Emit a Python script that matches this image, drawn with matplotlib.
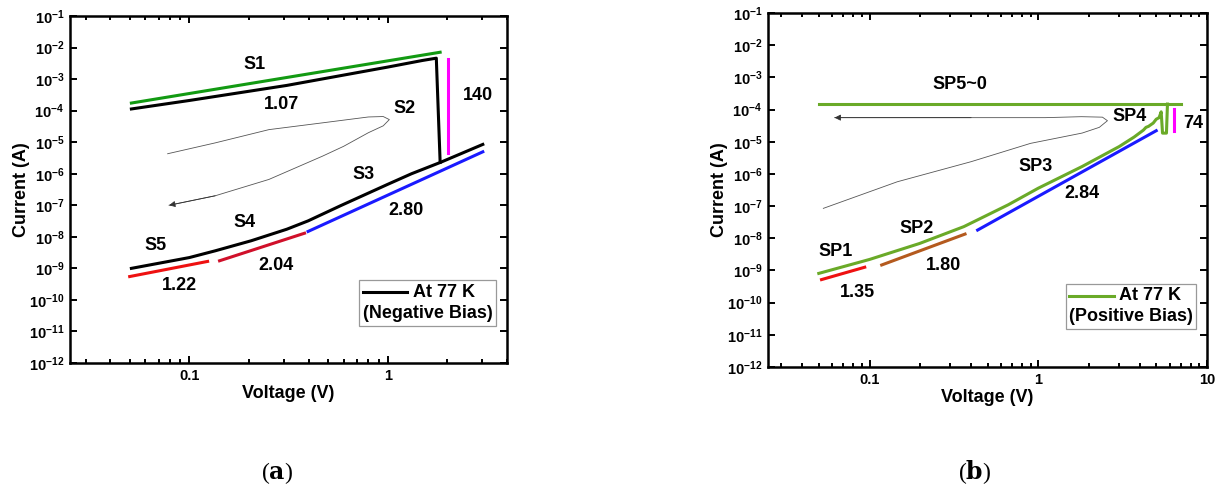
import numpy as np
import matplotlib
matplotlib.use("Agg")
import matplotlib.pyplot as plt
from matplotlib.ticker import FixedLocator, FuncFormatter, LogLocator, NullFormatter
from matplotlib.offsetbox import AnchoredOffsetbox, VPacker, HPacker, TextArea, DrawingArea
from matplotlib.lines import Line2D

plt.rcParams['font.family'] = ['Liberation Sans', 'DejaVu Sans']
plt.rcParams['font.weight'] = 'bold'
plt.rcParams['mathtext.fontset'] = 'custom'
plt.rcParams['mathtext.rm'] = 'Liberation Sans:bold'
plt.rcParams['mathtext.bf'] = 'Liberation Sans:bold'

# ---------------- Panel (a): negative bias ----------------
a_low_v = [0.051, 0.1, 0.135, 0.205, 0.31, 0.397, 0.577, 1.0, 1.32, 1.85, 3.02]
a_low_i = [1.0e-9, 2.2e-9, 3.6e-9, 7.5e-9, 1.74e-8, 3.2e-8, 9.6e-8, 4.6e-7, 1.0e-6, 2.3e-6, 8.5e-6]
a_high_v = [0.051, 0.1, 0.31, 1.0, 1.5, 1.76, 1.84]
a_high_i = [1.13e-4, 2.1e-4, 6.3e-4, 2.4e-3, 3.9e-3, 4.6e-3, 2.3e-6]
a_loop_v = [0.0777, 0.135, 0.252, 0.469, 0.80, 0.95, 1.02, 0.95, 0.80, 0.60, 0.469, 0.252, 0.135, 0.079]
a_loop_i = [4.3e-6, 9.5e-6, 2.5e-5, 4.1e-5, 6.3e-5, 6.5e-5, 5.2e-5, 3.3e-5, 2.0e-5, 7.4e-6, 3.6e-6, 6.6e-7, 2.0e-7, 1.0e-7]
a_fit_s1_v = [0.051, 1.84]
a_fit_s1_i = [1.74e-4, 7.1e-3]
a_fit_s5_v = [0.050, 0.1236]
a_fit_s5_i = [5.5e-10, 1.66e-9]
a_fit_s4_v = [0.142, 0.381]
a_fit_s4_i = [1.74e-9, 1.3e-8]
a_fit_s3_v = [0.397, 3.02]
a_fit_s3_i = [1.48e-8, 4.95e-6]
a_mag_v = [2.02, 2.02]
a_mag_i = [4.3e-3, 4.6e-6]
a_text = ["S1", "1.07", "S2", "140", "S3", "2.80", "S4", "S5", "2.04", "1.22"]
a_text_v = [0.212, 0.29, 1.22, 2.84, 0.76, 1.24, 0.19, 0.0675, 0.274, 0.089]
a_text_i = [3.0e-3, 1.55e-4, 1.2e-4, 3.0e-4, 9.5e-7, 6.6e-8, 2.9e-8, 5.2e-9, 1.26e-9, 2.8e-10]

# ---------------- Panel (b): positive bias ----------------
b_main_v = [0.05, 0.1, 0.198, 0.362, 0.664, 1.0, 1.82, 3.02, 3.7, 4.0, 4.2, 4.35, 4.5, 4.8, 5.0, 5.2, 5.35, 5.45, 5.75, 5.83]
b_main_i = [8.1e-10, 2.2e-9, 6.9e-9, 2.3e-8, 1.1e-7, 3.6e-7, 1.7e-6, 7.1e-6, 1.4e-5, 1.9e-5, 2.3e-5, 2.8e-5, 3.0e-5, 3.8e-5, 5.0e-5, 5.6e-5, 8.5e-5, 1.85e-5, 1.85e-5, 1.48e-4]
b_sp5_v = [0.05, 7.0]
b_sp5_i = [1.48e-4, 1.48e-4]
b_loop_v = [0.0532, 0.146, 0.40, 0.90, 1.82, 2.3, 2.57, 2.4, 1.8, 1.1, 0.40, 0.062]
b_loop_i = [8.5e-8, 5.7e-7, 2.4e-6, 8.9e-6, 1.86e-5, 2.8e-5, 4.5e-5, 5.8e-5, 6.0e-5, 5.6e-5, 5.6e-5, 5.6e-5]
b_fit_sp1_v = [0.0519, 0.0936]
b_fit_sp1_i = [5.2e-10, 1.26e-9]
b_fit_sp2_v = [0.118, 0.368]
b_fit_sp2_i = [1.48e-9, 1.35e-8]
b_fit_sp3_v = [0.437, 5.0]
b_fit_sp3_i = [1.8e-8, 2.2e-5]
b_mag_v = [6.4, 6.4]
b_mag_i = [1.04e-4, 2.2e-5]
b_text = ["SP5~0", "SP4", "74", "SP3", "2.84", "SP2", "1.80", "SP1", "1.35"]
b_text_v = [0.344, 3.47, 8.3, 0.97, 1.82, 0.19, 0.275, 0.0625, 0.085]
b_text_i = [6.2e-4, 5.9e-5, 3.8e-5, 1.7e-6, 2.4e-7, 2.0e-8, 1.4e-9, 3.8e-9, 2.1e-10]

y_ticks = [10.0 ** k for k in range(-12, 0)]
a_xticks = [0.1, 1]
b_xticks = [0.1, 1, 10]

fig = plt.figure(figsize=(12.15, 4.88), dpi=100)
ax1 = fig.add_axes([70 / 1215, 1 - 363 / 488, 437 / 1215, 347 / 488])
ax2 = fig.add_axes([768 / 1215, 1 - 367 / 488, 439 / 1215, 354 / 488])


def yfmt(v, pos):
    k = int(round(np.log10(v)))
    return r'$\mathbf{10^{%d}}$' % k


def xfmt(v, pos):
    return '%g' % v


def style(ax, xlim, xticks):
    ax.set_xscale('log')
    ax.set_yscale('log')
    ax.set_xlim(*xlim)
    ax.set_ylim(1e-12, 1e-1)
    ax.yaxis.set_major_locator(FixedLocator(y_ticks))
    ax.yaxis.set_major_formatter(FuncFormatter(yfmt))
    ax.yaxis.set_minor_locator(FixedLocator([]))
    ax.xaxis.set_major_locator(FixedLocator(xticks))
    ax.xaxis.set_major_formatter(FuncFormatter(xfmt))
    ax.xaxis.set_minor_locator(LogLocator(base=10, subs=np.arange(2, 10), numticks=20))
    ax.xaxis.set_minor_formatter(NullFormatter())
    ax.tick_params(which='both', direction='in', top=True, right=True, width=1.4)
    ax.tick_params(which='major', length=5, labelsize=10.5, pad=4)
    ax.tick_params(which='minor', length=3)
    for s in ax.spines.values():
        s.set_linewidth(1.8)
    ax.set_xlabel('Voltage (V)', fontsize=13, fontweight='bold', labelpad=2)
    ax.set_ylabel('Current (A)', fontsize=13, fontweight='bold', labelpad=-1)


def add_legend(ax, color, line2, anchor):
    da = DrawingArea(32, 10, 0, 0)
    da.add_artist(Line2D([0, 32], [5, 5], color=color, lw=2.2))
    t1 = TextArea('At 77 K', textprops=dict(fontsize=13, fontweight='bold'))
    t2 = TextArea(line2, textprops=dict(fontsize=13, fontweight='bold'))
    row = HPacker(children=[da, t1], align='center', pad=0, sep=4)
    box = VPacker(children=[row, t2], align='left', pad=0, sep=3)
    anch = AnchoredOffsetbox(loc='lower right', child=box, pad=0.25, borderpad=0,
                             frameon=True, bbox_to_anchor=anchor,
                             bbox_transform=ax.transAxes)
    anch.patch.set_edgecolor('#999999')
    anch.patch.set_linewidth(0.9)
    anch.patch.set_boxstyle('square', pad=0)
    ax.add_artist(anch)


# ---- Panel (a)
style(ax1, (0.025, 4.0), a_xticks)
ax1.plot(a_fit_s1_v, a_fit_s1_i, color='#129a12', lw=2.2)
ax1.plot(a_high_v, a_high_i, color='black', lw=2.2)
ax1.plot(a_low_v, a_low_i, color='black', lw=2.2)
ax1.plot(a_fit_s5_v, a_fit_s5_i, color='#ee1111', lw=2.2)
ax1.plot(a_fit_s4_v, a_fit_s4_i, color='#d0102a', lw=2.2)
ax1.plot(a_fit_s3_v, a_fit_s3_i, color='#1a1aff', lw=2.2)
ax1.plot(a_mag_v, a_mag_i, color='#ff00ff', lw=2.2)
ax1.plot(a_loop_v, a_loop_i, color='#555555', lw=0.6)
ax1.annotate('', xy=(a_loop_v[-1], a_loop_i[-1]), xytext=(a_loop_v[-2], a_loop_i[-2]),
             arrowprops=dict(arrowstyle='-|>', color='#333333', lw=0.6,
                             mutation_scale=9, shrinkA=0, shrinkB=0))
for t, v, i in zip(a_text, a_text_v, a_text_i):
    ax1.text(v, i, t, fontsize=13, fontweight='bold', ha='center', va='center')
add_legend(ax1, 'black', '(Negative Bias)', (0.975, 0.108))

# ---- Panel (b)
style(ax2, (0.025, 10.0), b_xticks)
ax2.plot(b_sp5_v, b_sp5_i, color='#6aaa28', lw=2.2)
ax2.plot(b_main_v, b_main_i, color='#6aaa28', lw=2.2)
ax2.plot(b_fit_sp1_v, b_fit_sp1_i, color='#ee1111', lw=2.2)
ax2.plot(b_fit_sp2_v, b_fit_sp2_i, color='#b45a1e', lw=2.2)
ax2.plot(b_fit_sp3_v, b_fit_sp3_i, color='#1a1aff', lw=2.2)
ax2.plot(b_mag_v, b_mag_i, color='#ff00ff', lw=2.2)
ax2.plot(b_loop_v, b_loop_i, color='#555555', lw=0.6)
ax2.annotate('', xy=(b_loop_v[-1], b_loop_i[-1]), xytext=(b_loop_v[-2], b_loop_i[-2]),
             arrowprops=dict(arrowstyle='-|>', color='#333333', lw=0.6,
                             mutation_scale=9, shrinkA=0, shrinkB=0))
for t, v, i in zip(b_text, b_text_v, b_text_i):
    ax2.text(v, i, t, fontsize=13, fontweight='bold', ha='center', va='center')
add_legend(ax2, '#6aaa28', '(Positive Bias)', (0.976, 0.108))

# ---- panel labels
fig.text(277 / 1215, 1 - 473 / 488, '(' + r'$\mathbf{a}$' + ')', fontsize=17,
         family='Liberation Serif', fontweight='normal', ha='center', va='center',
         math_fontfamily='dejavuserif')
fig.text(975 / 1215, 1 - 472 / 488, '(' + r'$\mathbf{b}$' + ')', fontsize=17,
         family='Liberation Serif', fontweight='normal', ha='center', va='center',
         math_fontfamily='dejavuserif')

fig.savefig('out.png', dpi=100)
